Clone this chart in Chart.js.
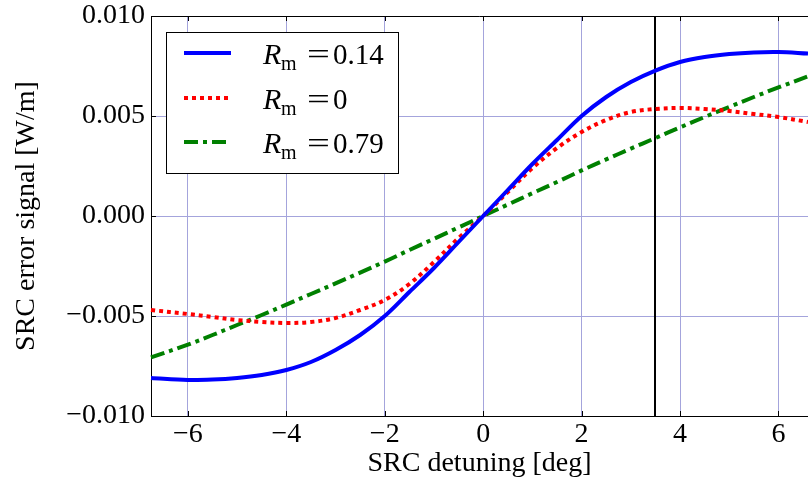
<!DOCTYPE html>
<html>
<head>
<meta charset="utf-8">
<script src="https://cdn.jsdelivr.net/npm/chart.js@4/dist/chart.umd.min.js"></script>
<style>
  html, body { margin: 0; padding: 0; background: #fff; }
  #wrap { width: 808px; height: 480px; }
</style>
</head>
<body>
<div id="wrap"><canvas id="myChart" width="808" height="480"></canvas></div>
<script>
// detuning values [deg]
const detuning = [-6.75, -6, -5.5, -5, -4.5, -4, -3.5, -3, -2.5, -2, -1.5, -1, -0.5, 0,
  0.5, 1, 1.5, 2, 2.5, 3, 3.5, 4, 4.5, 5, 5.5, 6, 6.6];
// error signal [W/m] for each Rm
const errR014 = [-0.0081, -0.0082, -0.00818, -0.0081, -0.00795, -0.0077, -0.0073, -0.0067, -0.00595, -0.0050, -0.0038, -0.0026, -0.0013, 0,
  0.0013, 0.0026, 0.0038, 0.0050, 0.00595, 0.0067, 0.00727, 0.0077, 0.00795, 0.0081, 0.00818, 0.0082, 0.00812];
const errR0 = [-0.0047, -0.0049, -0.00505, -0.0052, -0.0053, -0.00535, -0.0053, -0.0051, -0.0047, -0.0042, -0.0034, -0.0023, -0.0011, 0,
  0.0012, 0.0024, 0.0034, 0.0042, 0.0048, 0.0052, 0.00535, 0.0054, 0.00535, 0.00525, 0.0051, 0.00495, 0.0047];
const errR079 = [-0.00707, -0.00643, -0.00595, -0.00545, -0.00495, -0.00443, -0.0039, -0.00337, -0.00283, -0.00228, -0.0017, -0.00114, -0.00057, 0,
  0.00057, 0.00114, 0.0017, 0.00228, 0.00283, 0.00337, 0.0039, 0.00443, 0.00495, 0.00545, 0.00595, 0.00643, 0.00698];
const rmLabels = ['0.14', '0', '0.79'];
const xTicks = [-6, -4, -2, 0, 2, 4, 6];
const yTicks = [-0.010, -0.005, 0, 0.005, 0.010];
const markerX = 3.5;

const FONT = '"Liberation Serif", "Times New Roman", serif';
const minus = s => s.replace('-', '\u2212');
const pts = ys => detuning.map((x, i) => ({x: x, y: ys[i]}));

const frameAndLegend = {
  id: 'frameAndLegend',
  beforeDatasetsDraw(chart) {
    const {ctx, chartArea: a, scales: {x}} = chart;
    ctx.save();
    // marker line
    ctx.strokeStyle = '#000';
    ctx.lineWidth = 2;
    ctx.beginPath();
    const mx = Math.round(x.getPixelForValue(markerX));
    ctx.moveTo(mx, a.top);
    ctx.lineTo(mx, a.bottom);
    ctx.stroke();
    ctx.restore();
  },
  afterDraw(chart) {
    const {ctx, chartArea: a, scales: {x, y}} = chart;
    ctx.save();
    // top spine + inward ticks
    ctx.strokeStyle = '#000';
    ctx.lineWidth = 1;
    ctx.beginPath();
    ctx.moveTo(a.left, a.top + 0.5);
    ctx.lineTo(a.right, a.top + 0.5);
    xTicks.forEach(v => {
      const px = Math.round(x.getPixelForValue(v)) + 0.5;
      ctx.moveTo(px, a.bottom); ctx.lineTo(px, a.bottom - 5);
      ctx.moveTo(px, a.top); ctx.lineTo(px, a.top + 5);
    });
    yTicks.forEach(v => {
      const py = Math.round(y.getPixelForValue(v)) + 0.5;
      ctx.moveTo(a.left, py); ctx.lineTo(a.left + 5, py);
    });
    ctx.stroke();

    // legend
    const bx = 166, by = 32, bw = 232, bh = 141;
    ctx.fillStyle = '#fff';
    ctx.fillRect(bx, by, bw, bh);
    ctx.strokeStyle = '#000';
    ctx.lineWidth = 1;
    ctx.strokeRect(bx + 0.5, by + 0.5, bw, bh);
    const rows = [53, 98, 142];
    chart.data.datasets.forEach((ds, i) => {
      const ly = rows[i];
      ctx.save();
      ctx.strokeStyle = ds.borderColor;
      ctx.lineWidth = ds.borderWidth;
      ctx.lineCap = 'butt';
      ctx.setLineDash(ds.borderDash || []);
      ctx.beginPath();
      ctx.moveTo(184, ly);
      ctx.lineTo(231, ly);
      ctx.stroke();
      ctx.restore();
      const base = ly + 11;
      ctx.fillStyle = '#000';
      ctx.textBaseline = 'alphabetic';
      ctx.textAlign = 'left';
      ctx.font = 'italic 30px ' + FONT;
      ctx.fillText('R', 263, base);
      ctx.font = '20px ' + FONT;
      ctx.fillText('m', 281, base + 6);
      ctx.font = '29px ' + FONT;
      // wide equals sign like the math font
      ctx.save();
      ctx.translate(307, base);
      ctx.scale(1.4, 1);
      ctx.fillText('=', 0, 0);
      ctx.restore();
      ctx.fillText(rmLabels[i], 333, base);
    });
    ctx.restore();
  }
};

const data = {
  datasets: [
    {
      label: 'Rm=' + rmLabels[0],
      data: pts(errR014),
      borderColor: '#0000ff',
      borderWidth: 4,
    },
    {
      label: 'Rm=' + rmLabels[1],
      data: pts(errR0),
      borderColor: '#ff0000',
      borderWidth: 4,
      borderDash: [4, 4],
    },
    {
      label: 'Rm=' + rmLabels[2],
      data: pts(errR079),
      borderColor: '#008000',
      borderWidth: 4,
      borderDash: [14, 5, 4, 5],
    }
  ]
};

const noPad = s => { s.paddingTop = 0; s.paddingBottom = 0; s.paddingLeft = 0; s.paddingRight = 0; };

const config = {
  type: 'line',
  data: data,
  options: {
    responsive: false,
    animation: false,
    clip: false,
    layout: { padding: { top: 16, right: 0, bottom: 0, left: 0 } },
    elements: {
      point: { radius: 0 },
      line: { tension: 0.35, borderCapStyle: 'butt', fill: false }
    },
    plugins: { legend: { display: false }, tooltip: { enabled: false } },
    scales: {
      x: {
        type: 'linear',
        min: -6.75,
        max: 6.6,
        afterBuildTicks: s => { s.ticks = xTicks.map(v => ({value: v})); },
        afterFit: s => { s.height = 64; noPad(s); },
        grid: { color: '#a4a4dc', lineWidth: 1, drawTicks: false },
        border: { color: '#000', width: 1 },
        ticks: { color: '#000', padding: 2, font: { family: FONT, size: 28 }, callback: v => minus(String(v)) },
        title: { display: true, text: 'SRC detuning [deg]', color: '#000', font: { family: FONT, size: 28 }, padding: { top: 0, bottom: 0 } }
      },
      y: {
        min: -0.01,
        max: 0.01,
        afterBuildTicks: s => { s.ticks = yTicks.map(v => ({value: v})); },
        afterFit: s => { s.width = 151; noPad(s); },
        grid: { color: '#a4a4dc', lineWidth: 1, drawTicks: false },
        border: { color: '#000', width: 1 },
        ticks: { color: '#000', padding: 6, font: { family: FONT, size: 28 }, callback: v => minus(Number(v).toFixed(3)) },
        title: { display: true, text: 'SRC error signal [W/m]', color: '#000', font: { family: FONT, size: 28 }, padding: { top: 10, bottom: 0 } }
      }
    }
  },
  plugins: [frameAndLegend]
};

const myChart = new Chart(document.getElementById('myChart'), config);
</script>
</body>
</html>
